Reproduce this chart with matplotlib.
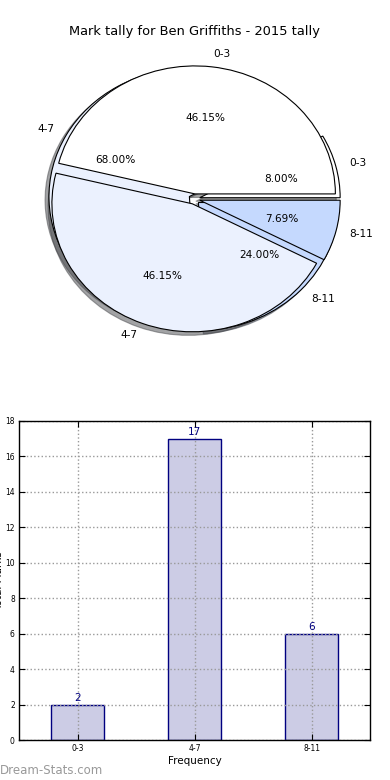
import numpy as np
import matplotlib
matplotlib.use('Agg')
import matplotlib.pyplot as plt

# ── data ─────────────────────────────────────────────────────────────────────
ranges       = ['0-3', '4-7', '8-11']
tally_2015   = [2, 17, 6]          # season tally (bar chart + first pie)
tally_other  = [6, 6, 1]           # second pie layer (46.15 / 46.15 / 7.69 %)
wedge_colors = ['#ffffff', '#ebf1fe', '#c5d9fe']
title        = 'Mark tally for Ben Griffiths - 2015 tally'

fig = plt.figure(figsize=(3.9, 7.8), dpi=100)

# ── pie ──────────────────────────────────────────────────────────────────────
ax1 = fig.add_axes([18.8 / 390, 1 - 359 / 780, 351 / 390, 320 / 780])
pie_kw = dict(explode=[0.04] * 3, labels=ranges, colors=wedge_colors,
              autopct='%1.2f%%', shadow=True, startangle=0,
              labeldistance=1.1, pctdistance=0.6,
              wedgeprops=dict(edgecolor='black', linewidth=0.8),
              textprops=dict(fontsize=7.6))
ax1.pie(tally_2015, **pie_kw)
ax1.pie(tally_other, **pie_kw)
ax1.set_aspect('auto')
ax1.set_xlim(-1.25, 1.25)
ax1.set_ylim(-1.25, 1.25)
ax1.axis('off')
ax1.set_title(title, fontsize=9.4, pad=3)

# ── bars ─────────────────────────────────────────────────────────────────────
ax2 = fig.add_axes([19 / 390, 40 / 780, 351 / 390, 319 / 780])
x = np.arange(len(ranges))
ax2.bar(x, tally_2015, width=0.45, align='center',
        facecolor=(0, 0, 0.5, 0.2), edgecolor='navy', linewidth=1, zorder=1)
for xi, v in zip(x, tally_2015):
    ax2.text(xi, v + 0.1, str(v), ha='center', va='bottom',
             color='navy', fontsize=7.5)
ax2.set_xlim(-0.5, 2.5)
ax2.set_ylim(0, 18)
ax2.set_yticks(range(0, 19, 2))
ax2.set_xticks(x)
ax2.set_xticklabels(ranges)
ax2.tick_params(direction='in', top=True, right=True, length=4,
                labelsize=5.5, pad=3)
ax2.grid(True, linestyle=':', color='#999999', linewidth=1, zorder=2)
for s in ax2.spines.values():
    s.set_linewidth(1)
ax2.set_xlabel('Frequency', fontsize=7.5, labelpad=2)
ax2.set_ylabel('Total Marks', fontsize=7.5)
ax2.yaxis.set_label_coords(-0.043, 0.5)

fig.text(0.0, 10 / 780, 'Dream-Stats.com', ha='left', va='center',
         color='#999999', fontsize=8.5)

plt.savefig('out.png', dpi=100)
plt.close()
